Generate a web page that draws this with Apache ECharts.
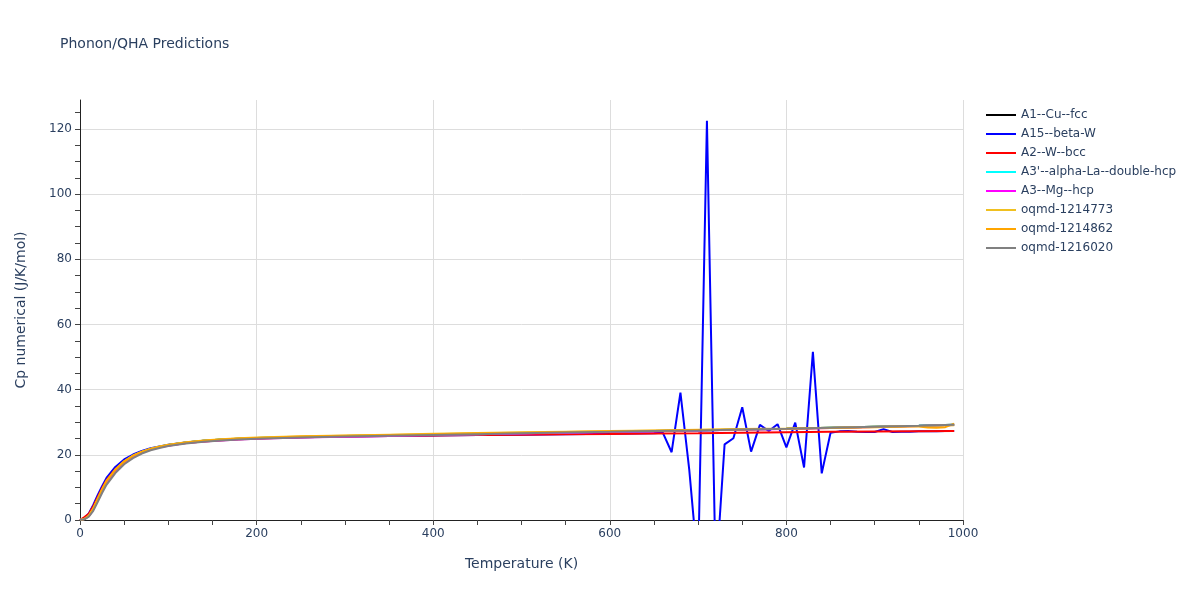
<!DOCTYPE html>
<html>
<head>
<meta charset="utf-8">
<script src="https://cdn.jsdelivr.net/npm/echarts@6/dist/echarts.min.js"></script>
<style>html,body{margin:0;padding:0;background:#fff;}#c{width:1200px;height:600px;}</style>
</head>
<body>
<div id="c"></div>
<script>
// Temperature grid for smooth curves (K)
const tempsSmooth = [0,5,10,15,20,25,30,40,50,60,70,80,90,100,120,140,160,180,200,250,300,350,400,450,500,550,600,650,700,750,800,850,900,950,990];

const cuFcc      = [0,0.3,1.3,3.3,6.2,9.0,11.6,15.2,17.8,19.6,20.9,21.8,22.5,23.0,23.8,24.3,24.7,24.95,25.15,25.5,25.75,25.95,26.15,26.35,26.6,26.85,27.05,27.3,27.5,27.75,28.0,28.3,28.6,28.9,29.2];
const wBcc       = [0,0.9,1.9,4.2,7.0,9.8,12.2,15.6,18.0,19.7,20.9,21.8,22.4,22.9,23.6,24.1,24.5,24.8,25.0,25.4,25.6,25.8,25.95,26.05,26.15,26.3,26.4,26.55,26.65,26.8,26.95,27.05,27.15,27.25,27.35];
const laDhcp     = [0,0.3,1.3,3.4,6.3,9.1,11.7,15.3,17.9,19.7,20.9,21.8,22.5,23.0,23.8,24.3,24.7,24.95,25.15,25.5,25.75,25.95,26.15,26.35,26.6,26.85,27.05,27.3,27.5,27.75,28.0,28.3,28.6,28.9,29.2];
const mgHcp      = [0,0.3,1.2,3.2,6.0,8.8,11.4,15.0,17.6,19.4,20.7,21.6,22.3,22.8,23.6,24.1,24.4,24.7,24.9,25.3,25.55,25.8,26.05,26.3,26.55,26.8,27.0,27.25,27.45,27.7,27.95,28.25,28.55,28.85,29.15];
const oq1214773  = [0,0.3,1.3,3.5,6.5,9.4,12.0,15.5,18.0,19.8,21.0,21.9,22.6,23.1,23.9,24.4,24.8,25.1,25.3,25.7,25.95,26.2,26.45,26.7,26.9,27.1,27.3,27.5,27.7,27.9,28.1,28.35,28.6,28.85,29.1];
const oq1216020  = [0,0.2,1.0,2.8,5.5,8.3,10.8,14.4,17.1,19.0,20.4,21.4,22.1,22.7,23.5,24.0,24.4,24.7,24.9,25.3,25.6,25.85,26.1,26.35,26.6,26.85,27.05,27.3,27.5,27.75,28.0,28.3,28.6,28.9,29.2];

// oqmd-1214862 has a small dip near 970 K
const tempsOq1214862 = [0,5,10,15,20,25,30,40,50,60,70,80,90,100,120,140,160,180,200,250,300,350,400,450,500,550,600,650,700,750,800,850,900,940,950,960,970,980,990];
const oq1214862  = [0,0.3,1.3,3.4,6.4,9.3,11.9,15.4,17.9,19.7,20.9,21.8,22.5,23.0,23.8,24.3,24.7,25.0,25.2,25.6,25.85,26.1,26.35,26.6,26.8,27.0,27.2,27.4,27.6,27.8,28.0,28.25,28.5,28.7,28.7,28.4,28.3,28.5,29.6];

// A15--beta-W: unstable above ~650 K
const tempsBetaW = [0,5,10,15,20,25,30,40,50,60,70,80,90,100,120,140,160,180,200,250,300,350,400,450,500,550,600,650,660,670,680,690,700,710,720,730,740,750,760,770,780,790,800,810,820,830,840,850,860,870,880,890,900,910,920,930,940,950,960,970,980,990];
const betaW      = [0,0.5,2.0,4.6,7.6,10.4,12.9,16.3,18.6,20.1,21.2,22.0,22.6,23.1,23.8,24.3,24.6,24.9,25.1,25.4,25.6,25.8,25.95,26.1,26.2,26.35,26.5,26.65,26.8,20.8,39.1,15.4,-15,122.5,-18,23.2,25.1,34.6,21.0,29.2,27.3,29.4,22.3,29.9,16.1,51.6,14.3,26.8,27.2,27.3,27.1,27.0,27.0,27.9,27.0,27.1,27.1,27.2,27.2,27.2,27.3,27.3];

const seriesNames = ['A1--Cu--fcc','A15--beta-W','A2--W--bcc',"A3'--alpha-La--double-hcp",'A3--Mg--hcp','oqmd-1214773','oqmd-1214862','oqmd-1216020'];
const seriesColors = ['#000000','#0000ff','#ff0000','#00ffff','#ff00ff','#f0c020','#ffa500','#808080'];
const seriesTemps = [tempsSmooth,tempsBetaW,tempsSmooth,tempsSmooth,tempsSmooth,tempsSmooth,tempsOq1214862,tempsSmooth];
const seriesValues = [cuFcc,betaW,wBcc,laDhcp,mgHcp,oq1214773,oq1214862,oq1216020];

const yMinorTicks = [];
for (let v = 0; v <= 125; v += 5) yMinorTicks.push(v);

const textColor = '#2a3f5f';
const font = "'DejaVu Sans', Verdana, Arial, sans-serif";

const chart = echarts.init(document.getElementById('c'), null, {renderer:'canvas'});
chart.setOption({
  animation: false,
  backgroundColor: '#ffffff',
  title: {
    text: 'Phonon/QHA Predictions',
    left: 60, top: 37, padding: 0,
    textStyle: {fontFamily: font, fontSize: 14, fontWeight: 'normal', color: textColor}
  },
  legend: {
    orient: 'vertical',
    left: 986, top: 108,
    itemWidth: 30, itemHeight: 2, itemGap: 5,
    icon: 'rect',
    padding: 0,
    textStyle: {fontFamily: font, fontSize: 12, color: textColor, lineHeight: 14},
    data: seriesNames
  },
  grid: {left: 80, right: 237, top: 100, bottom: 80, containLabel: false},
  xAxis: {
    type: 'value', min: 0, max: 1000, interval: 200,
    name: 'Temperature (K)', nameLocation: 'middle', nameGap: 37,
    nameTextStyle: {fontFamily: font, fontSize: 14, color: textColor},
    axisLine: {show: true, onZero: false, lineStyle: {color: '#222', width: 1}},
    axisTick: {show: true, length: 5, inside: false, lineStyle: {color: '#444'}},
    minorTick: {show: true, splitNumber: 4, length: 5, lineStyle: {color: '#444'}},
    axisLabel: {fontFamily: font, fontSize: 12, color: textColor, margin: 8, formatter: v => String(v)},
    splitLine: {show: true, showMinLine: false, lineStyle: {color: '#dddddd', width: 1}}
  },
  yAxis: [{
    type: 'value', min: 0, max: 128.9, interval: 20,
    name: 'Cp numerical (J/K/mol)', nameLocation: 'middle', nameGap: 52,
    nameTextStyle: {fontFamily: font, fontSize: 14, color: textColor},
    axisLine: {show: true, onZero: false, lineStyle: {color: '#222', width: 1}},
    axisTick: {show: false},
    axisLabel: {fontFamily: font, fontSize: 12, color: textColor, margin: 8, showMaxLabel: false, formatter: v => String(v)},
    splitLine: {show: true, showMinLine: false, showMaxLine: false, lineStyle: {color: '#dddddd', width: 1}}
  }, {
    type: 'value', min: 0, max: 128.9, interval: 5, position: 'left',
    axisLine: {show: false},
    axisTick: {show: true, length: 5, customValues: yMinorTicks, lineStyle: {color: '#444'}},
    axisLabel: {show: false},
    splitLine: {show: false}
  }],
  series: seriesNames.map((name, i) => ({
    name: name,
    type: 'line',
    yAxisIndex: 0,
    showSymbol: false,
    symbol: 'none',
    clip: true,
    lineStyle: {width: 2, color: seriesColors[i]},
    itemStyle: {color: seriesColors[i]},
    data: seriesTemps[i].map((t, j) => [t, seriesValues[i][j]])
  }))
});
</script>
</body>
</html>
